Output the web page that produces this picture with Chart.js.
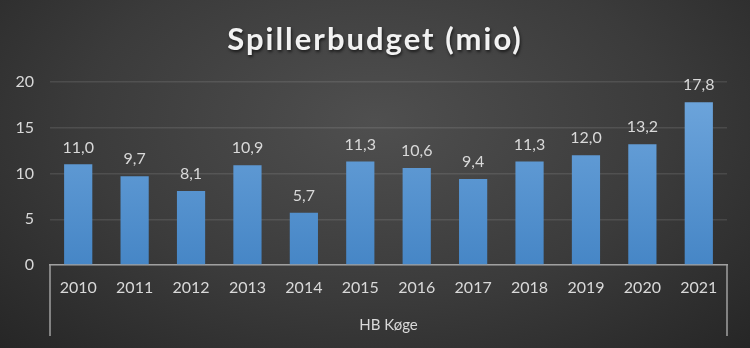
<!DOCTYPE html>
<html>
<head>
<meta charset="utf-8">
<script src="https://cdn.jsdelivr.net/npm/chart.js@4"></script>
<style>
  html, body { margin: 0; padding: 0; }
  body {
    width: 750px; height: 348px; overflow: hidden;
    background: radial-gradient(ellipse at 50% 35%, #4f4f4f 0%, #3b3b3b 55%, #262626 100%);
  }
  #wrap { position: relative; width: 750px; height: 348px; }
</style>
</head>
<body>
<div id="wrap"><canvas id="c"></canvas></div>
<script>
const years = ['2010', '2011', '2012', '2013', '2014', '2015', '2016', '2017', '2018', '2019', '2020', '2021'];
const budget = [11.0, 9.7, 8.1, 10.9, 5.7, 11.3, 10.6, 9.4, 11.3, 12.0, 13.2, 17.8];
const yTicks = [0, 5, 10, 15, 20];
const groupLabel = 'HB Køge';
const titleText = 'Spillerbudget (mio)';

const textColor = '#d9d9d9';
const fontFamily = 'Lato, "Noto Sans", sans-serif';

const comma = v => v.toFixed(1).replace('.', ',');

// title, value labels and the group bracket under the x axis
const decor = {
  id: 'decor',
  afterDatasetsDraw(chart) {
    const ctx = chart.ctx;
    const meta = chart.getDatasetMeta(0);
    ctx.save();
    ctx.font = '16px ' + fontFamily;
    ctx.fillStyle = textColor;
    ctx.textAlign = 'center';
    ctx.textBaseline = 'bottom';
    meta.data.forEach((bar, i) => {
      ctx.fillText(comma(budget[i]), bar.x, bar.y - 9);
    });
    ctx.restore();
  },
  afterDraw(chart) {
    const ctx = chart.ctx;
    const area = chart.chartArea;
    ctx.save();
    ctx.strokeStyle = '#a0a0a0';
    ctx.lineWidth = 1.5;
    ctx.beginPath();
    ctx.moveTo(area.left, area.bottom);
    ctx.lineTo(area.left, 336);
    ctx.moveTo(area.right, area.bottom);
    ctx.lineTo(area.right, 336);
    ctx.stroke();

    ctx.font = '15px ' + fontFamily;
    ctx.fillStyle = textColor;
    ctx.textAlign = 'center';
    ctx.textBaseline = 'middle';
    ctx.fillText(groupLabel, (area.left + area.right) / 2, 325);

    ctx.font = 'bold 31px ' + fontFamily;
    ctx.letterSpacing = '2px';
    ctx.shadowColor = 'rgba(0,0,0,0.6)';
    ctx.shadowBlur = 3;
    ctx.shadowOffsetX = 1;
    ctx.shadowOffsetY = 2;
    ctx.fillStyle = '#f2f2f2';
    ctx.fillText(titleText, 375, 40);
    ctx.restore();
  }
};

const ctx = document.getElementById('c').getContext('2d');
const grad = ctx.createLinearGradient(0, 82, 0, 265);
grad.addColorStop(0, '#70a7dd');
grad.addColorStop(1, '#4686c6');

new Chart(ctx, {
  type: 'bar',
  data: {
    labels: years,
    datasets: [{
      data: budget,
      backgroundColor: grad,
      borderWidth: 0,
      barPercentage: 0.5,
      categoryPercentage: 1
    }]
  },
  options: {
    responsive: true,
    maintainAspectRatio: false,
    animation: false,
    layout: { padding: { top: 82, right: 23, bottom: 12, left: 0 } },
    plugins: {
      legend: { display: false },
      tooltip: { enabled: false }
    },
    scales: {
      x: {
        grid: { display: false, drawTicks: false },
        border: { color: '#a0a0a0', width: 1.5 },
        ticks: { color: textColor, font: { family: fontFamily, size: 16 }, padding: 13, maxRotation: 0 },
        afterFit(scale) { scale.height = 71; }
      },
      y: {
        min: 0,
        max: 20,
        afterBuildTicks(scale) { scale.ticks = yTicks.map(v => ({ value: v })); },
        grid: { color: 'rgba(255,255,255,0.1)', lineWidth: 1.5, drawTicks: false },
        border: { display: false },
        ticks: { color: textColor, font: { family: fontFamily, size: 16 }, padding: 16 },
        afterFit(scale) { scale.width = 50; }
      }
    }
  },
  plugins: [decor]
});
</script>
</body>
</html>
